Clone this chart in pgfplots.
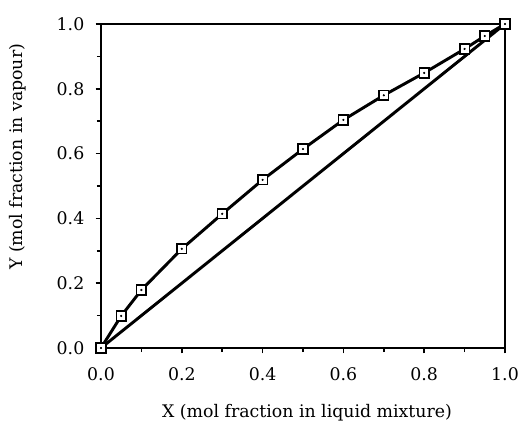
\documentclass[border=0pt]{standalone}
\usepackage{fontspec}
\setmainfont{DejaVu Serif}
\usepackage{pgfplots}
\pgfplotsset{compat=1.18}
\begin{document}
\begin{tikzpicture}[x=0.75pt,y=0.75pt]
% frame to keep the page size of the reference (521x432 px)
\path[use as bounding box] (-101,-84) rectangle (420,348);
\begin{axis}[
    at={(0,0)}, anchor=origin,
    scale only axis,
    width=303pt, height=243pt,
    xmin=0, xmax=1, ymin=0, ymax=1,
    xtick={0,0.2,...,1.01}, ytick={0,0.2,...,1.01},
    minor tick num=1,
    tick align=outside,
    xtick pos=left, ytick pos=left,
    major tick length=4pt, minor tick length=3pt,
    axis line style={line width=1.6pt},
    every tick/.style={line width=1.3pt, black},
    tick label style={font=\fontsize{13}{15}\selectfont},
    /pgf/number format/assume math mode=true,
    /pgf/number format/.cd, fixed, fixed zerofill, precision=1,
    /pgfplots/.cd,
    xticklabel style={yshift=-7pt},
    yticklabel style={xshift=-5pt},
    label style={font=\fontsize{13}{15}\selectfont},
    xlabel={X (mol fraction in liquid mixture)},
    ylabel={Y (mol fraction in vapour)},
    xlabel style={at={(axis description cs:0.51,-0.2)}, anchor=center},
    ylabel style={at={(axis description cs:-0.205,0.59)}, anchor=center},
    clip=false,
]
\addplot[black, line width=2.2pt] coordinates {(0,0) (1,1)};
\addplot[black, line width=2.2pt, mark=square*, mark size=3.6pt,
    mark options={fill=white, line width=1.2pt}] coordinates {
    (0,0) (0.05,0.099) (0.1,0.179) (0.2,0.306) (0.3,0.414) (0.4,0.519)
    (0.5,0.614) (0.6,0.704) (0.7,0.780) (0.8,0.849) (0.9,0.923)
    (0.95,0.963) (1,1)};
\addplot[only marks, black, mark=*, mark size=0.6pt] coordinates {
    (0,0) (0.05,0.099) (0.1,0.179) (0.2,0.306) (0.3,0.414) (0.4,0.519)
    (0.5,0.614) (0.6,0.704) (0.7,0.780) (0.8,0.849) (0.9,0.923)
    (0.95,0.963) (1,1)};
\end{axis}
\end{tikzpicture}
\end{document}
